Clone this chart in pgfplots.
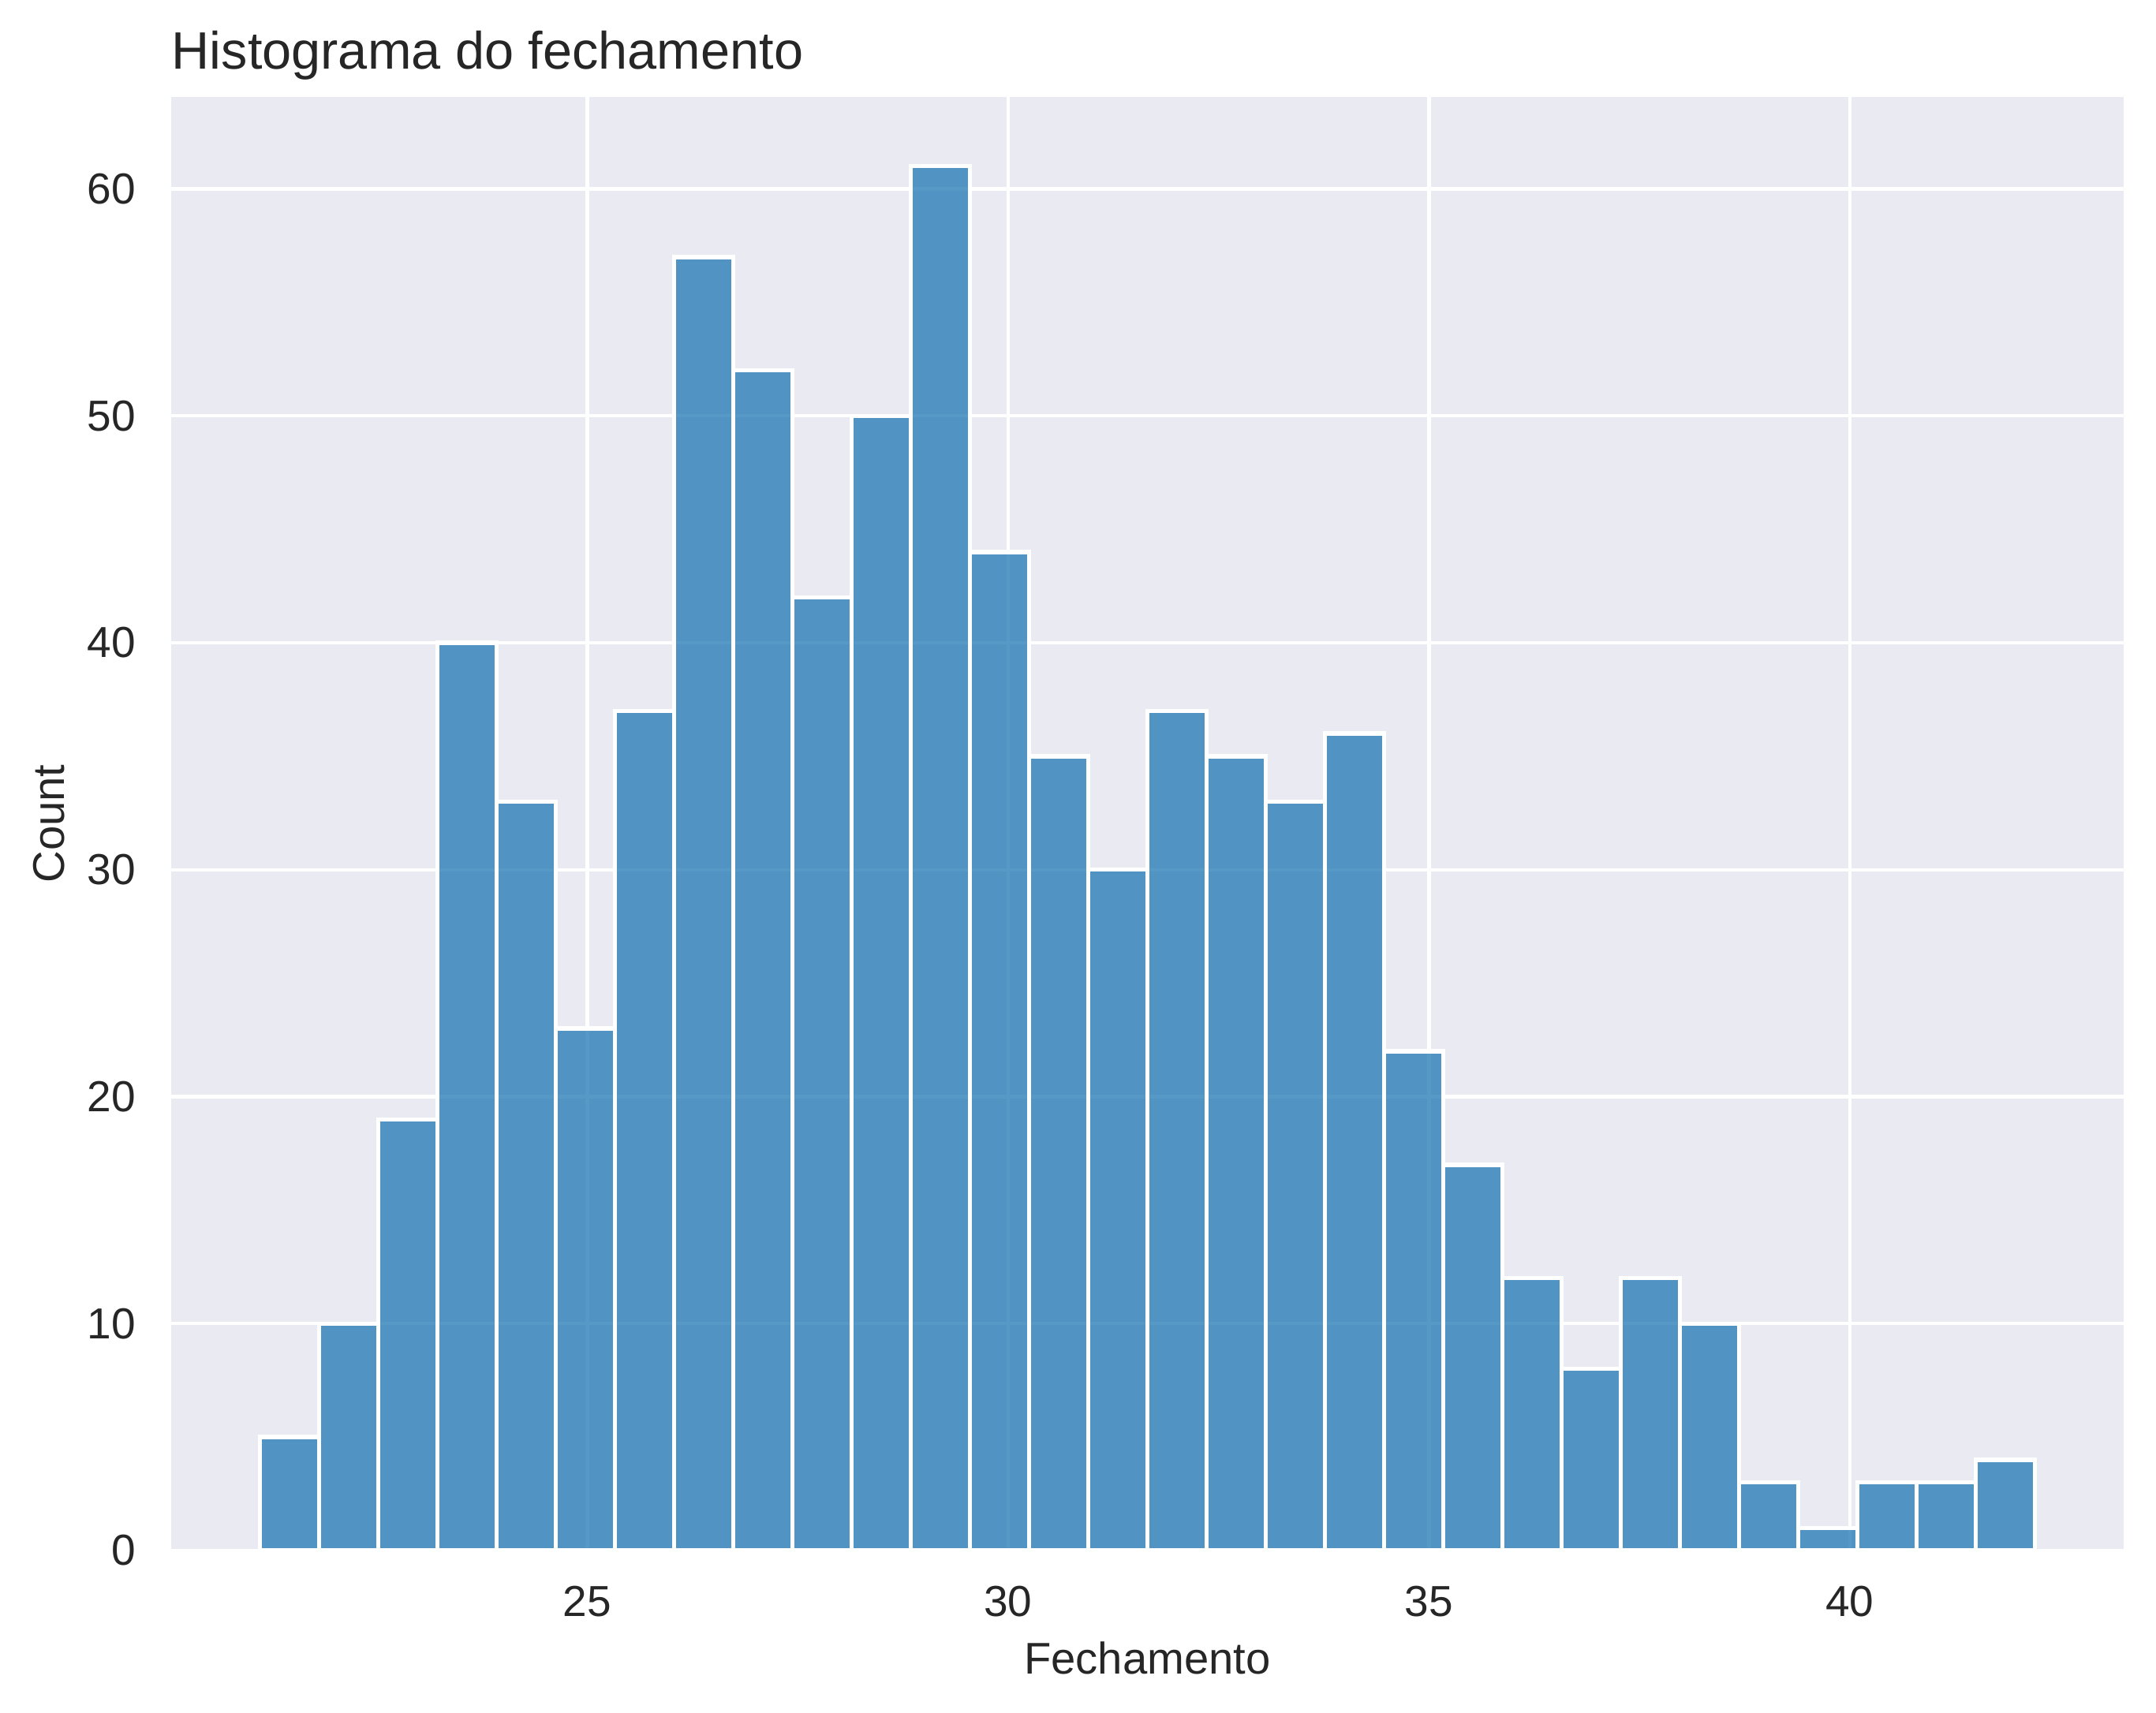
\documentclass[border=0pt]{standalone}
\usepackage{fontspec}
\setmainfont{Liberation Sans}
\usepackage{pgfplots}
\pgfplotsset{compat=1.18}
\definecolor{bgc}{HTML}{EAEAF2}
\definecolor{barc}{HTML}{1F77B4}
\definecolor{txt}{HTML}{262626}
\begin{document}
\begin{tikzpicture}
\begin{axis}[
  at={(0,0)}, anchor=south west,
  scale only axis, width=594pt, height=442.32pt,
  xmin=20.056, xmax=43.254, ymin=0, ymax=64.05,
  axis background/.style={fill=bgc},
  axis line style={draw=none},
  major tick length=0pt,
  grid=major,
  major grid style={white, line width=1.03pt},
  xtick={25,30,35,40}, ytick={0,10,20,30,40,50,60},
  /pgf/number format/assume math mode=true,
  tick label style={font=\fontsize{13.2}{15}\selectfont, text=txt, inner sep=0pt},
  xticklabel style={anchor=north, yshift=-10.56pt},
  yticklabel style={anchor=east, xshift=-10.56pt},
  xlabel={Fechamento}, ylabel={Count},
  label style={font=\fontsize{13.5}{16}\selectfont, text=txt, inner sep=0pt},
  xlabel style={at={(axis description cs:0.5,-0.0850)}, anchor=base},
  ylabel style={at={(axis description cs:-0.05455,0.5)}, anchor=base},
  every axis title shift=0pt,
  title={Histograma do fechamento},
  title style={font=\fontsize{16}{19}\selectfont, text=txt, inner sep=0pt, at={(axis description cs:0,1.019)}, anchor=base west},
]
\addplot[ybar interval, fill=barc, fill opacity=0.75, draw=white, draw opacity=1, line width=1.3pt] coordinates {
(21.110,5) (21.813,10) (22.516,19) (23.219,40) (23.922,33) (24.625,23)
(25.328,37) (26.031,57) (26.734,52) (27.437,42) (28.140,50) (28.843,61)
(29.546,44) (30.249,35) (30.952,30) (31.655,37) (32.358,35) (33.061,33)
(33.764,36) (34.467,22) (35.170,17) (35.873,12) (36.576,8) (37.279,12)
(37.982,10) (38.685,3) (39.388,1) (40.091,3) (40.794,3) (41.497,4)
(42.200,4)
};
\end{axis}
\pgfresetboundingbox
\path[use as bounding box] (-52.08pt,-49.44pt) rectangle (603.84pt,471.84pt);
\end{tikzpicture}
\end{document}
